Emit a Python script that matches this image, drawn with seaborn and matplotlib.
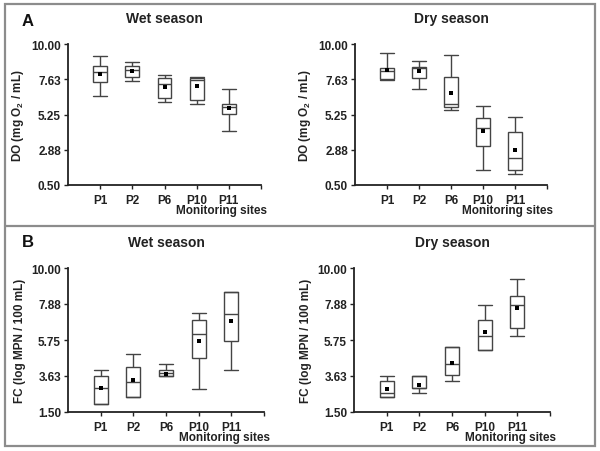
import numpy as np
import pandas as pd
import seaborn as sns
import matplotlib
matplotlib.use("Agg")
import matplotlib.pyplot as plt
from matplotlib.patches import Rectangle
from matplotlib.lines import Line2D

sites = ["P1", "P2", "P6", "P10", "P11"]

# Panel A: DO (mg O2 / mL)
do_wet_low = [6.47, 7.52, 6.11, 5.97, 4.15]
do_wet_q1 = [7.41, 7.79, 6.33, 6.26, 5.30]
do_wet_med = [8.09, 8.24, 7.32, 7.59, 5.77]
do_wet_q3 = [8.54, 8.54, 7.68, 7.73, 5.97]
do_wet_high = [9.21, 8.81, 7.93, 7.77, 6.94]
do_wet_mean = [8.00, 8.20, 7.07, 7.14, 5.66]

do_dry_low = [7.55, 6.98, 5.54, 1.49, 1.24]
do_dry_q1 = [7.63, 7.68, 5.75, 3.13, 1.49]
do_dry_med = [8.15, 8.36, 5.99, 4.33, 2.32]
do_dry_q3 = [8.40, 8.42, 7.79, 5.00, 4.08]
do_dry_high = [9.39, 8.85, 9.23, 5.84, 5.07]
do_dry_mean = [8.24, 8.15, 6.71, 4.12, 2.86]

# Panel B: FC (log MPN / 100 mL)
fc_wet_low = [1.97, 2.38, 3.62, 2.87, 3.97]
fc_wet_q1 = [1.97, 2.36, 3.62, 4.66, 5.68]
fc_wet_med = [2.89, 3.25, 3.82, 6.09, 7.27]
fc_wet_q3 = [3.60, 4.17, 3.97, 6.96, 8.61]
fc_wet_high = [3.97, 4.95, 4.31, 7.35, 8.61]
fc_wet_mean = [2.89, 3.38, 3.76, 5.70, 6.90]

fc_dry_low = [2.38, 2.62, 3.35, 5.17, 5.96]
fc_dry_q1 = [2.36, 2.89, 3.66, 5.17, 6.43]
fc_dry_med = [2.60, 2.93, 4.31, 5.96, 7.84]
fc_dry_q3 = [3.33, 3.62, 5.35, 6.96, 8.37]
fc_dry_high = [3.62, 3.64, 5.35, 7.84, 9.37]
fc_dry_mean = [2.85, 3.11, 4.41, 6.25, 7.66]

do_ticks = [0.50, 2.88, 5.25, 7.63, 10.00]
fc_ticks = [1.50, 3.63, 5.75, 7.88, 10.00]

sns.set_theme(style="ticks")
plt.rcParams["font.family"] = ["Liberation Sans", "DejaVu Sans"]
plt.rcParams["mathtext.fontset"] = "custom"
plt.rcParams["mathtext.bf"] = "Liberation Sans:bold"
plt.rcParams["mathtext.rm"] = "Liberation Sans"

W, H = 600, 452
fig = plt.figure(figsize=(6.0, 4.52), dpi=100)


def px_axes(x, y_top, w, h):
    return fig.add_axes([x / W, 1 - (y_top + h) / H, w / W, h / H])


def make_df(low, q1, med, q3, high):
    rows = []
    for s, a, b, c, d, e in zip(sites, low, q1, med, q3, high):
        for v in (a, b, c, d, e):
            rows.append({"site": s, "value": v})
    return pd.DataFrame(rows)


panels = [
    (px_axes(68, 45, 193, 141), "Wet season", do_wet_low, do_wet_q1, do_wet_med, do_wet_q3, do_wet_high, do_wet_mean,
     do_ticks, (0.5, 10.0), r"DO (mg O$_\mathbf{2}$ / mL)"),
    (px_axes(355, 45, 192, 141), "Dry season", do_dry_low, do_dry_q1, do_dry_med, do_dry_q3, do_dry_high, do_dry_mean,
     do_ticks, (0.5, 10.0), r"DO (mg O$_\mathbf{2}$ / mL)"),
    (px_axes(68, 269, 196, 144), "Wet season", fc_wet_low, fc_wet_q1, fc_wet_med, fc_wet_q3, fc_wet_high, fc_wet_mean,
     fc_ticks, (1.5, 10.0), "FC (log MPN / 100 mL)"),
    (px_axes(354, 269, 196, 144), "Dry season", fc_dry_low, fc_dry_q1, fc_dry_med, fc_dry_q3, fc_dry_high, fc_dry_mean,
     fc_ticks, (1.5, 10.0), "FC (log MPN / 100 mL)"),
]

lc = "#444444"
for ax, title, lo, q1, md, q3, hi, mn, ticks, ylim, ylabel in panels:
    df = make_df(lo, q1, md, q3, hi)
    kw = dict(data=df, x="site", y="value", order=sites, whis=(0, 100), width=0.43,
              color="white", linecolor=lc, linewidth=1.0, ax=ax, showfliers=False)
    try:
        sns.boxplot(capwidths=0.43, **kw)
    except TypeError:
        sns.boxplot(**kw)
    sns.scatterplot(x=np.arange(len(sites)), y=mn, marker="s", color="black", s=7,
                    edgecolor="black", linewidth=0, ax=ax, zorder=5)
    ax.set_xlim(-1, 5)
    ax.set_ylim(*ylim)
    ax.set_xticks(range(6))
    ax.set_xticklabels(sites + [""])
    ax.set_yticks(ticks)
    ax.set_yticklabels([f"{t:.2f}" for t in ticks])
    for lab in ax.get_xticklabels() + ax.get_yticklabels():
        lab.set_fontweight("bold")
        lab.set_fontsize(8.5)
        lab.set_color("#222222")
    ax.tick_params(direction="out", length=3, width=1.0, pad=2, colors="#222222")
    ax.tick_params(axis="x", pad=3.5)
    sns.despine(ax=ax)
    for sp in ("left", "bottom"):
        ax.spines[sp].set_linewidth(1.3)
        ax.spines[sp].set_color("#222222")
    ax.set_xlabel("")
    ax.set_ylabel(ylabel, fontsize=8.5, fontweight="bold", color="#222222", labelpad=4)
    h_px = ax.get_position().height * H
    ax.text(1.03, -19.5 / h_px, "Monitoring sites", transform=ax.transAxes, ha="right", va="top",
            fontsize=8.5, fontweight="bold", color="#222222")
    ax.set_title(title, fontsize=10, fontweight="bold", color="#222222", pad=16)
    ax.set_facecolor("white")

fig.text(22 / W, 1 - 22 / H, "A", fontsize=12, fontweight="bold", ha="left", va="center", color="#111111")
fig.text(22 / W, 1 - 243 / H, "B", fontsize=12, fontweight="bold", ha="left", va="center", color="#111111")

border = "#8c8c8c"
fig.add_artist(Rectangle((5 / W, 1 - 447 / H), 590 / W, 442 / H, transform=fig.transFigure,
                         fill=False, edgecolor=border, linewidth=1.6))
fig.add_artist(Line2D([5 / W, 595 / W], [1 - 227 / H, 1 - 227 / H], transform=fig.transFigure,
                      color=border, linewidth=1.6))

fig.savefig("out.png", dpi=100, facecolor="white")
